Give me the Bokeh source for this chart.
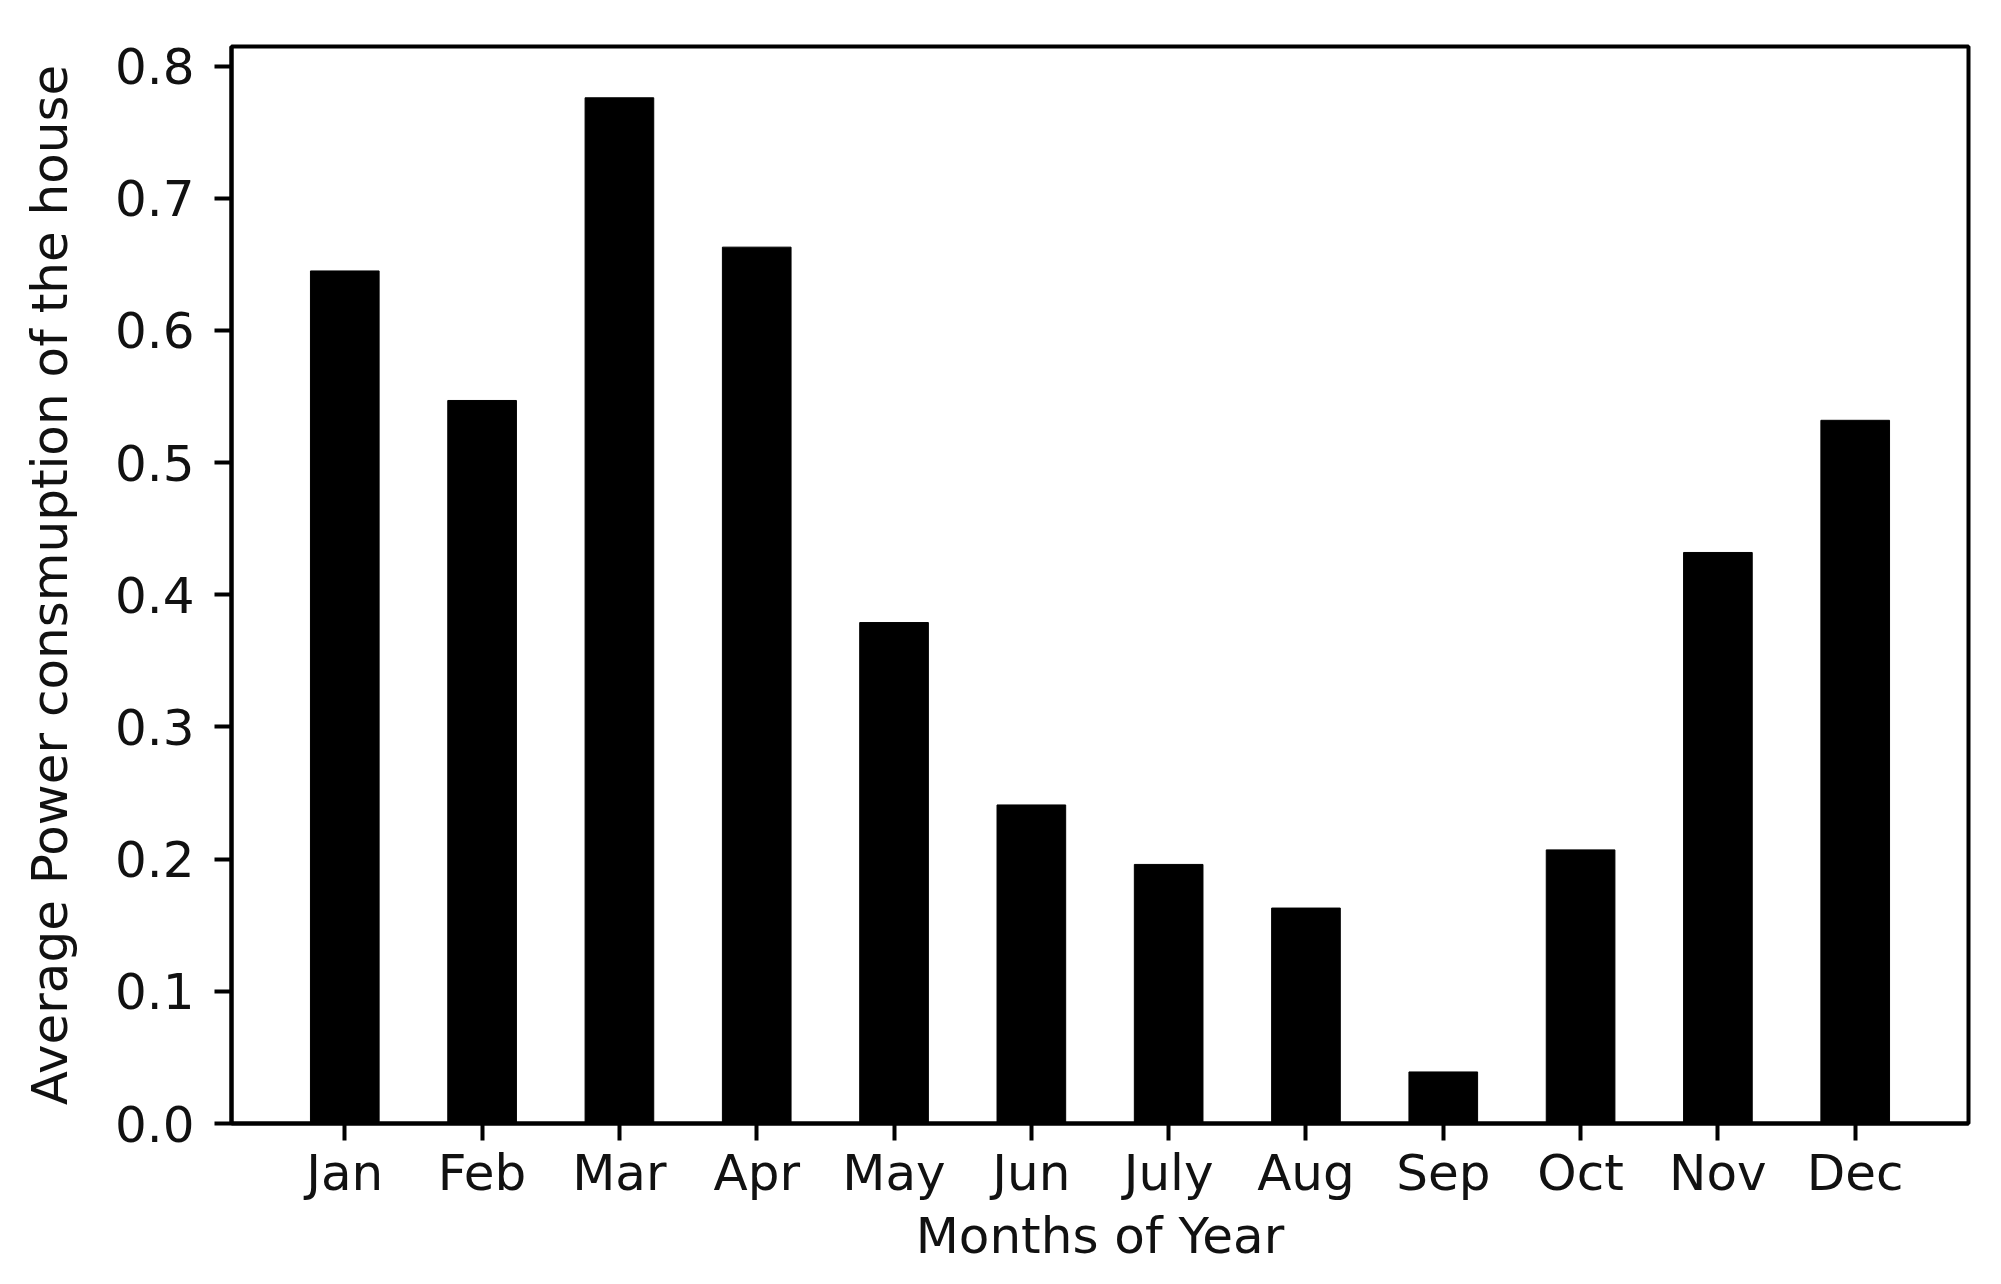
from bokeh.plotting import figure
from bokeh.models import Range1d, FixedTicker, PrintfTickFormatter
from bokeh.embed import file_html
from bokeh.resources import INLINE

months = ["Jan", "Feb", "Mar", "Apr", "May", "Jun", "July", "Aug", "Sep", "Oct", "Nov", "Dec"]
power = [0.645, 0.547, 0.776, 0.663, 0.379, 0.241, 0.196, 0.163, 0.039, 0.207, 0.432, 0.532]
y_ticks = [0.0, 0.1, 0.2, 0.3, 0.4, 0.5, 0.6, 0.7, 0.8]

x_pos = list(range(len(months)))
bar_w = 0.5
n = len(months)
x_pad = 0.05 * ((n - 1) + bar_w)
x_lo = -bar_w / 2 - x_pad
x_hi = (n - 1) + bar_w / 2 + x_pad
y_hi = max(power) * 1.05

FONT = "DejaVu Sans"
FS = "50px"

p = figure(width=1985, height=1268, output_backend="svg", toolbar_location=None,
           x_range=Range1d(x_lo, x_hi), y_range=Range1d(0, y_hi),
           min_border_left=231, min_border_right=17, min_border_top=46, min_border_bottom=145)

p.vbar(x=x_pos, top=power, width=bar_w, bottom=0, fill_color="black", line_color="black", line_width=1)

p.xgrid.visible = False
p.ygrid.visible = False
p.outline_line_color = "black"
p.outline_line_width = 4
p.background_fill_color = "white"
p.border_fill_color = "white"

p.xaxis.ticker = FixedTicker(ticks=x_pos)
p.xaxis.major_label_overrides = {i: m for i, m in enumerate(months)}
p.yaxis.ticker = FixedTicker(ticks=y_ticks)
p.yaxis.formatter = PrintfTickFormatter(format="%.1f")

p.xaxis.axis_label = "Months of Year"
p.yaxis.axis_label = "Average Power consmuption of the house"

for ax in (p.xaxis[0], p.yaxis[0]):
    ax.axis_line_color = "black"
    ax.axis_line_width = 4
    ax.major_tick_line_color = "black"
    ax.major_tick_line_width = 4
    ax.major_tick_out = 17
    ax.major_tick_in = 0
    ax.minor_tick_line_color = None
    ax.major_label_text_font = FONT
    ax.major_label_text_font_size = FS
    ax.major_label_text_color = "#111111"
    ax.axis_label_text_font = FONT
    ax.axis_label_text_font_size = FS
    ax.axis_label_text_font_style = "normal"
    ax.axis_label_text_color = "#111111"

p.xaxis.major_label_standoff = 3
p.xaxis.axis_label_standoff = 2
p.yaxis.major_label_standoff = 20
p.yaxis.axis_label_standoff = 33

open("out.html", "w").write(file_html(p, INLINE))
